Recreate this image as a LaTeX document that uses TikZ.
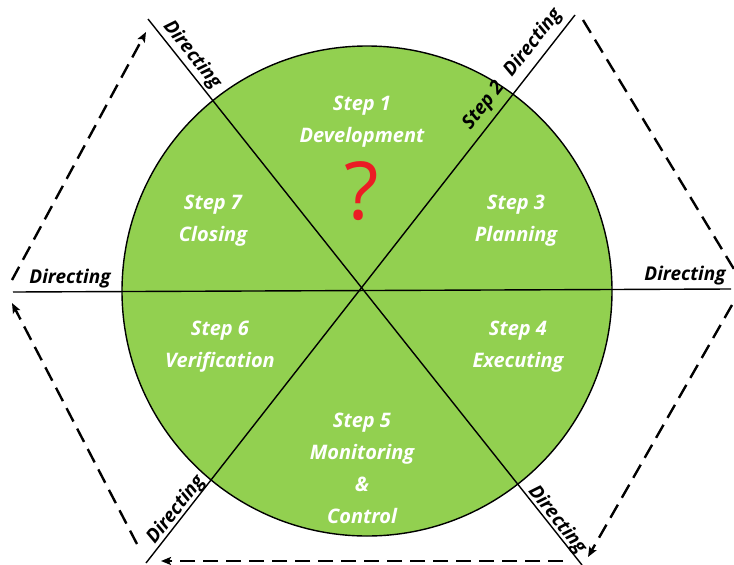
\documentclass[tikz,border=0pt]{standalone}
\usepackage{fontspec}
\setmainfont{Open Sans}
\usetikzlibrary{arrows.meta}
\definecolor{leaf}{RGB}{146,208,80}
\definecolor{qred}{RGB}{235,28,36}
\begin{document}
\begin{tikzpicture}[x=1pt,y=-1pt,
  divider/.style={line width=1.4pt},
  cycle/.style={line width=2.4pt, dash pattern=on 15pt off 8pt,
    -{Stealth[length=10pt,width=8pt,inset=2pt]}},
  dirlabel/.style={font=\fontsize{19}{21}\selectfont\bfseries\itshape, inner sep=0pt},
  steplabel/.style={font=\fontsize{20}{32}\selectfont\bfseries\itshape, text=white,
    align=center, inner sep=0pt}
]
\useasboundingbox (0,0) rectangle (734,565);

% the disc
\draw[fill=leaf, line width=1.4pt] (367,291) circle[radius=245];

% dividing lines
\coordinate (a1) at (148,19);  \coordinate (a2) at (582,565);
\coordinate (b1) at (575,15);  \coordinate (b2) at (146,563);
\coordinate (h1) at (13,292);  \coordinate (h2) at (731,289);
\draw[divider] (a1) -- (a2);
\draw[divider] (b1) -- (b2);
\draw[divider] (h1) -- (h2);

% dashed cycle around the disc
\coordinate (d1s) at (12,280);  \coordinate (d1e) at (146,32);
\coordinate (d2s) at (583,20);  \coordinate (d2e) at (743,284);
\coordinate (d3s) at (732,305); \coordinate (d3e) at (588,557);
\coordinate (d4s) at (563,561); \coordinate (d4e) at (161,561);
\coordinate (d5s) at (137,544); \coordinate (d5e) at (12,303);
\draw[cycle] (d1s) -- (d1e);
\draw[cycle] (d2s) -- (d2e);
\draw[cycle] (d3s) -- (d3e);
\draw[cycle] (d4s) -- (d4e);
\draw[cycle] (d5s) -- (d5e);

% "Directing" labels at the line ends
\node[dirlabel, rotate=-51.5] (dirA1) at (192,55) {Directing};
\node[dirlabel, rotate=52]    (dirB1) at (533,43) {Directing};
\node[dirlabel, rotate=-51.5] (dirA2) at (557,520) {Directing};
\node[dirlabel, rotate=52]    (dirB2) at (176,510) {Directing};
\node[dirlabel]               (dirH1) at (70,279) {Directing};
\node[dirlabel]               (dirH2) at (685,276) {Directing};
\node[dirlabel, rotate=52]    (step2) at (484,106) {Step 2};

% the sectors
\node[steplabel] (step1) at (362,122) {Step 1\\Development};
\node[steplabel] (step3) at (516,221) {Step 3\\Planning};
\node[steplabel] (step4) at (518,347) {Step 4\\Executing};
\node[steplabel] (step5) at (362,468) {Step 5\\Monitoring\\\&\\Control};
\node[steplabel] (step6) at (220,347) {Step 6\\Verification};
\node[steplabel] (step7) at (213,221) {Step 7\\Closing};
\node[text=qred, font=\fontsize{80}{80}\selectfont, inner sep=0pt] (query) at (362,191) {?};
\end{tikzpicture}
\end{document}
